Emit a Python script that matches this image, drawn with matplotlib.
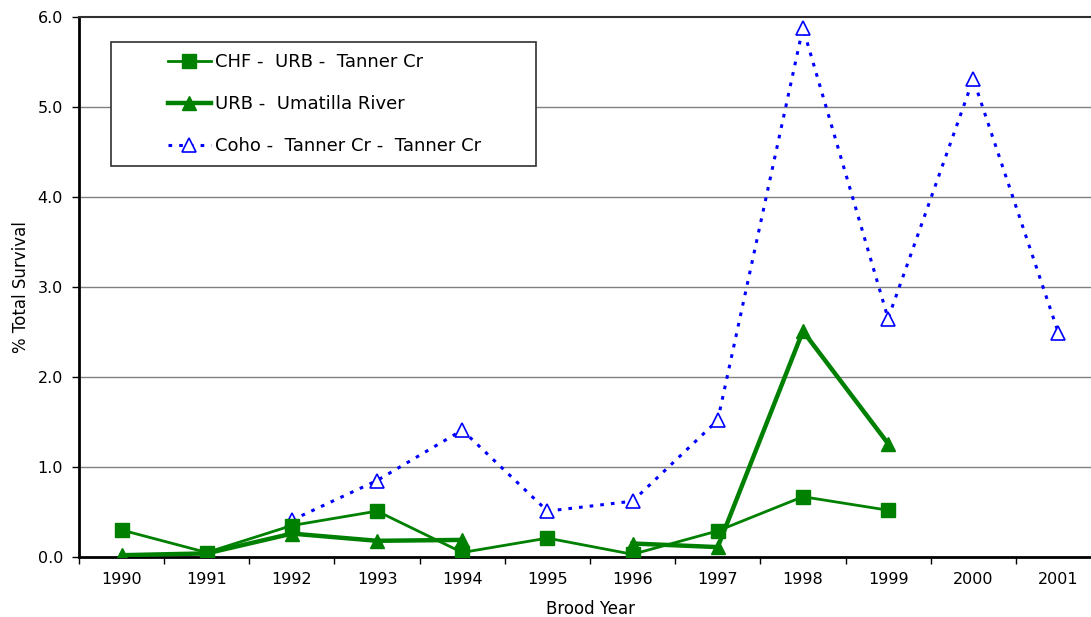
import matplotlib
matplotlib.use("Agg")
import matplotlib.pyplot as plt
from matplotlib.patches import Rectangle
import numpy as np

years = ["1990", "1991", "1992", "1993", "1994", "1995", "1996", "1997", "1998", "1999", "2000", "2001"]
chf_urb_tanner = [0.30, 0.05, 0.35, 0.51, 0.05, 0.21, 0.03, 0.29, 0.67, 0.52, None, None]
urb_umatilla = [0.02, 0.04, 0.26, 0.18, 0.19, None, 0.15, 0.11, 2.51, 1.26, None, None]
coho_tanner = [None, None, 0.41, 0.85, 1.41, 0.51, 0.62, 1.52, 5.88, 2.65, 5.31, 2.49]
labels = ["CHF -  URB -  Tanner Cr", "URB -  Umatilla River", "Coho -  Tanner Cr -  Tanner Cr"]
yticks = [0.0, 1.0, 2.0, 3.0, 4.0, 5.0, 6.0]

plt.rcParams['font.family'] = ['DejaVu Sans']

def arr(v):
    return np.array([np.nan if x is None else x for x in v], dtype=float)

W, H = 1091, 617
fig = plt.figure(figsize=(W / 100, H / 100), dpi=100)
L, R, T, B = 79, 1101, 17, 557
ax = fig.add_axes([L / W, (H - B) / H, (R - L) / W, (B - T) / H])

x = np.arange(len(years))
green = "#008000"
blue = "#0000FF"

h1, = ax.plot(x, arr(chf_urb_tanner), color=green, lw=2.0, marker="s", markersize=9.5,
              markerfacecolor=green, markeredgecolor=green, zorder=4)
h2, = ax.plot(x, arr(urb_umatilla), color=green, lw=3.2, marker="^", markersize=9.5,
              markerfacecolor=green, markeredgecolor=green, zorder=5)
h3, = ax.plot(x, arr(coho_tanner), color=blue, lw=2.2, linestyle=(0, (1.2, 2.3)), marker="^",
              markersize=9.5, markerfacecolor="white", markeredgecolor=blue, markeredgewidth=1.2, zorder=3)

ax.set_xlim(-0.5, len(years) - 0.5)
ax.set_ylim(0, 6.0)
ax.set_yticks(yticks)
ax.set_yticklabels([f"{v:.1f}" for v in yticks], fontsize=11.5)
ax.set_xticks(x)
ax.set_xticklabels(years, fontsize=11.5)
ax.tick_params(axis="x", which="major", length=0, pad=11)
ax.set_xticks(np.arange(-0.5, len(years) + 0.5, 1.0), minor=True)
ax.tick_params(axis="x", which="minor", length=5, width=1, direction="out", color="black")
ax.tick_params(axis="y", length=5, width=1, direction="out", pad=6.5)

for v in yticks[1:-1]:
    ax.axhline(v, color="#808080", lw=1.0, zorder=1)

for s in ["left", "bottom"]:
    ax.spines[s].set_color("black")
    ax.spines[s].set_linewidth(2.0)
ax.spines["top"].set_color("#303030")
ax.spines["top"].set_linewidth(1.5)
ax.spines["right"].set_visible(False)

ax.set_xlabel("Brood Year", fontsize=12, labelpad=9)
ax.set_ylabel("% Total Survival", fontsize=12, labelpad=5.5)

# legend frame
def fx(px):
    return (px - L) / (R - L)

def fy(py):
    return (B - py) / (B - T)

ax.add_patch(Rectangle((fx(111), fy(166)), fx(536) - fx(111), fy(42) - fy(166), transform=ax.transAxes,
                       facecolor="white", edgecolor="#303030", lw=1.2, zorder=6))
leg = ax.legend([h1, h2, h3], labels, loc="upper left",
                bbox_to_anchor=(fx(168), fy(53)),
                frameon=False, fontsize=13, handlelength=2.38, handletextpad=0.22,
                labelspacing=1.33, borderpad=0, borderaxespad=0)
leg.set_zorder(7)

fig.savefig("out.png", dpi=100)
